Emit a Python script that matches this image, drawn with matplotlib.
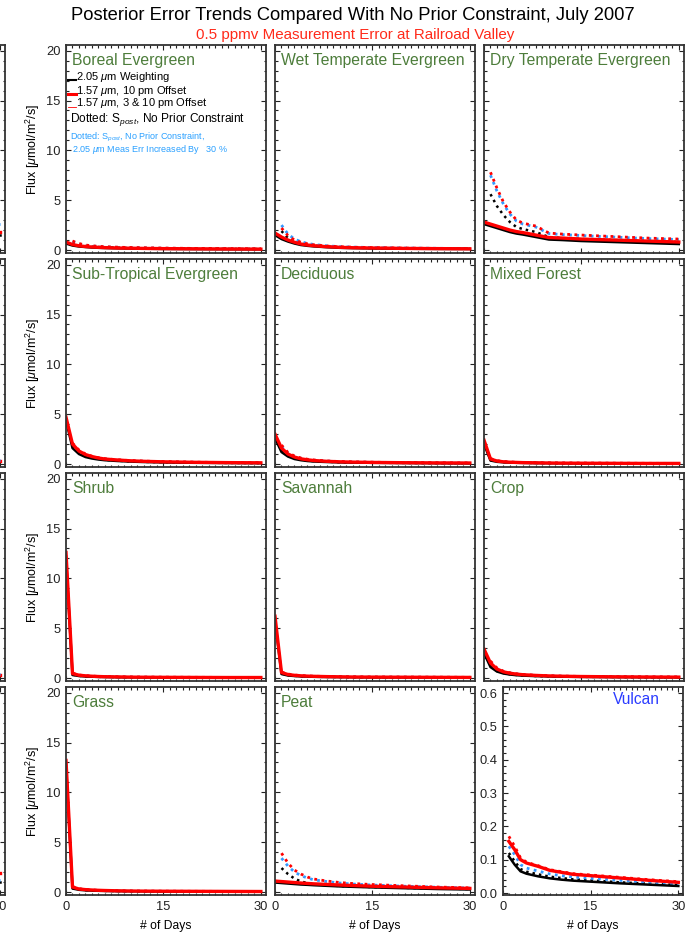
import matplotlib
matplotlib.use("Agg")
import matplotlib.pyplot as plt
from matplotlib.ticker import MultipleLocator

plt.rcParams['font.family'] = ['Liberation Sans', 'DejaVu Sans']
plt.rcParams['mathtext.fontset'] = 'custom'
plt.rcParams['mathtext.rm'] = 'Liberation Sans'
plt.rcParams['mathtext.it'] = 'Liberation Sans:italic'

# days for solid curves (start at 0) and dotted curves (start at day 1)
days_solid = [0, 1, 2, 3, 4, 5, 6, 8, 10, 12, 15, 20, 25, 30]
days_dot = [1, 2, 3, 4, 5, 6, 8, 10, 12, 15, 20, 25, 30]

# Boreal Evergreen
boreal_blk = [0.65, 0.45, 0.35, 0.3, 0.25, 0.22, 0.2, 0.17, 0.15, 0.13, 0.11, 0.09, 0.08, 0.07]
boreal_red = [0.8, 0.55, 0.42, 0.35, 0.3, 0.27, 0.24, 0.2, 0.18, 0.16, 0.14, 0.12, 0.1, 0.09]
boreal_blk_dot = [0.7, 0.5, 0.4, 0.33, 0.3, 0.27, 0.23, 0.2, 0.18, 0.16, 0.13, 0.11, 0.1]
boreal_red_dot = [0.9, 0.65, 0.5, 0.42, 0.37, 0.33, 0.28, 0.25, 0.22, 0.19, 0.16, 0.14, 0.12]
boreal_blu_dot = [0.85, 0.6, 0.47, 0.4, 0.35, 0.31, 0.27, 0.24, 0.21, 0.18, 0.15, 0.13, 0.11]

# Wet Temperate Evergreen
wet_blk = [1.5, 1.1, 0.85, 0.65, 0.5, 0.42, 0.36, 0.28, 0.22, 0.19, 0.16, 0.13, 0.11, 0.1]
wet_red = [1.7, 1.3, 1.0, 0.78, 0.6, 0.5, 0.43, 0.33, 0.27, 0.23, 0.2, 0.16, 0.14, 0.12]
wet_blk_dot = [1.9, 1.2, 0.85, 0.65, 0.52, 0.44, 0.34, 0.28, 0.24, 0.2, 0.16, 0.14, 0.12]
wet_red_dot = [2.2, 1.45, 1.0, 0.78, 0.62, 0.52, 0.4, 0.33, 0.28, 0.24, 0.19, 0.16, 0.14]
wet_blu_dot = [2.5, 1.6, 1.1, 0.83, 0.66, 0.55, 0.42, 0.34, 0.29, 0.25, 0.2, 0.17, 0.15]

# Dry Temperate Evergreen
dry_blk = [2.6, 2.4, 2.2, 2.0, 1.8, 1.65, 1.55, 1.3, 1.05, 1.0, 0.9, 0.8, 0.7, 0.6]
dry_red = [2.8, 2.6, 2.4, 2.2, 2.0, 1.85, 1.75, 1.5, 1.25, 1.2, 1.1, 1.0, 0.9, 0.8]
dry_blk_dot = [5.6, 4.4, 3.5, 2.8, 2.3, 2.1, 1.8, 1.3, 1.2, 1.1, 1.0, 0.9, 0.8]
dry_red_dot = [7.8, 6.2, 4.8, 3.8, 3.0, 2.7, 2.4, 1.7, 1.6, 1.5, 1.35, 1.2, 1.1]
dry_blu_dot = [7.5, 5.9, 4.6, 3.6, 2.9, 2.6, 2.3, 1.65, 1.55, 1.45, 1.3, 1.15, 1.05]

# Sub-Tropical Evergreen
sub_blk = [4.4, 1.6, 1.0, 0.7, 0.55, 0.45, 0.38, 0.3, 0.24, 0.2, 0.16, 0.12, 0.1, 0.08]
sub_red = [4.7, 2.0, 1.3, 0.95, 0.75, 0.6, 0.5, 0.4, 0.32, 0.27, 0.22, 0.17, 0.14, 0.12]
sub_blk_dot = [1.8, 1.1, 0.8, 0.6, 0.5, 0.42, 0.33, 0.26, 0.22, 0.18, 0.14, 0.11, 0.09]
sub_red_dot = [2.1, 1.4, 1.0, 0.78, 0.63, 0.53, 0.42, 0.34, 0.29, 0.24, 0.18, 0.15, 0.13]
sub_blu_dot = [2.0, 1.3, 0.95, 0.74, 0.6, 0.5, 0.4, 0.32, 0.27, 0.22, 0.17, 0.14, 0.12]

# Deciduous
dec_blk = [2.6, 1.2, 0.75, 0.5, 0.38, 0.3, 0.25, 0.2, 0.16, 0.14, 0.12, 0.1, 0.08, 0.07]
dec_red = [3.0, 1.6, 1.0, 0.7, 0.52, 0.42, 0.35, 0.27, 0.22, 0.19, 0.16, 0.13, 0.11, 0.1]
dec_blk_dot = [1.4, 0.85, 0.58, 0.44, 0.35, 0.29, 0.23, 0.18, 0.16, 0.13, 0.11, 0.09, 0.08]
dec_red_dot = [1.9, 1.15, 0.8, 0.6, 0.48, 0.4, 0.3, 0.25, 0.21, 0.18, 0.14, 0.12, 0.1]
dec_blu_dot = [1.8, 1.1, 0.75, 0.57, 0.45, 0.38, 0.29, 0.24, 0.2, 0.17, 0.13, 0.11, 0.1]

# Mixed Forest
mix_blk = [2.0, 0.35, 0.22, 0.17, 0.14, 0.12, 0.11, 0.09, 0.08, 0.07, 0.06, 0.05, 0.05, 0.04]
mix_red = [2.4, 0.5, 0.3, 0.22, 0.18, 0.16, 0.14, 0.12, 0.1, 0.09, 0.08, 0.07, 0.06, 0.06]
mix_blk_dot = [0.4, 0.25, 0.19, 0.16, 0.14, 0.12, 0.1, 0.09, 0.08, 0.07, 0.06, 0.05, 0.05]
mix_red_dot = [0.55, 0.33, 0.25, 0.2, 0.17, 0.15, 0.13, 0.11, 0.1, 0.09, 0.08, 0.07, 0.06]
mix_blu_dot = [0.5, 0.3, 0.23, 0.19, 0.16, 0.14, 0.12, 0.1, 0.09, 0.08, 0.07, 0.06, 0.06]

# Shrub
shrub_blk = [12.2, 0.3, 0.2, 0.15, 0.13, 0.11, 0.1, 0.08, 0.07, 0.06, 0.05, 0.05, 0.04, 0.04]
shrub_red = [12.6, 0.45, 0.28, 0.22, 0.18, 0.15, 0.13, 0.11, 0.09, 0.08, 0.07, 0.06, 0.05, 0.05]
shrub_blk_dot = [0.35, 0.22, 0.17, 0.14, 0.12, 0.11, 0.09, 0.08, 0.07, 0.06, 0.05, 0.05, 0.04]
shrub_red_dot = [0.5, 0.3, 0.23, 0.19, 0.16, 0.14, 0.12, 0.1, 0.09, 0.08, 0.07, 0.06, 0.05]
shrub_blu_dot = [0.45, 0.28, 0.21, 0.18, 0.15, 0.13, 0.11, 0.09, 0.08, 0.07, 0.06, 0.05, 0.05]

# Savannah
sav_blk = [5.8, 0.4, 0.25, 0.2, 0.16, 0.14, 0.12, 0.1, 0.09, 0.08, 0.07, 0.06, 0.05, 0.05]
sav_red = [6.2, 0.55, 0.35, 0.27, 0.22, 0.19, 0.17, 0.14, 0.12, 0.1, 0.09, 0.08, 0.07, 0.06]
sav_blk_dot = [0.45, 0.3, 0.22, 0.18, 0.15, 0.13, 0.11, 0.1, 0.09, 0.08, 0.07, 0.06, 0.05]
sav_red_dot = [0.6, 0.4, 0.3, 0.24, 0.2, 0.18, 0.15, 0.13, 0.11, 0.1, 0.09, 0.08, 0.07]
sav_blu_dot = [0.55, 0.37, 0.28, 0.22, 0.19, 0.17, 0.14, 0.12, 0.1, 0.09, 0.08, 0.07, 0.06]

# Crop
crop_blk = [2.5, 1.1, 0.65, 0.45, 0.35, 0.28, 0.24, 0.19, 0.16, 0.13, 0.11, 0.09, 0.08, 0.07]
crop_red = [2.9, 1.5, 0.9, 0.62, 0.48, 0.39, 0.33, 0.26, 0.21, 0.18, 0.15, 0.12, 0.1, 0.09]
crop_blk_dot = [1.2, 0.7, 0.5, 0.38, 0.31, 0.26, 0.2, 0.17, 0.14, 0.12, 0.1, 0.08, 0.07]
crop_red_dot = [1.7, 1.0, 0.68, 0.52, 0.42, 0.35, 0.27, 0.22, 0.19, 0.16, 0.13, 0.11, 0.1]
crop_blu_dot = [1.6, 0.95, 0.65, 0.5, 0.4, 0.33, 0.26, 0.21, 0.18, 0.15, 0.12, 0.1, 0.09]

# Grass
grass_blk = [12.8, 0.35, 0.22, 0.17, 0.14, 0.12, 0.11, 0.09, 0.08, 0.07, 0.06, 0.05, 0.05, 0.04]
grass_red = [13.2, 0.5, 0.3, 0.24, 0.2, 0.17, 0.15, 0.12, 0.1, 0.09, 0.08, 0.07, 0.06, 0.05]
grass_blk_dot = [0.4, 0.25, 0.18, 0.15, 0.13, 0.11, 0.09, 0.08, 0.07, 0.06, 0.05, 0.05, 0.04]
grass_red_dot = [0.55, 0.33, 0.25, 0.2, 0.17, 0.15, 0.12, 0.1, 0.09, 0.08, 0.07, 0.06, 0.05]
grass_blu_dot = [0.5, 0.3, 0.23, 0.19, 0.16, 0.14, 0.11, 0.09, 0.08, 0.07, 0.06, 0.05, 0.05]

# Peat
peat_blk = [0.95, 0.9, 0.85, 0.8, 0.75, 0.72, 0.68, 0.62, 0.56, 0.52, 0.46, 0.38, 0.3, 0.25]
peat_red = [1.1, 1.05, 1.0, 0.95, 0.9, 0.86, 0.82, 0.76, 0.7, 0.65, 0.58, 0.5, 0.42, 0.36]
peat_blk_dot = [2.4, 1.8, 1.35, 1.05, 0.9, 0.8, 0.68, 0.6, 0.55, 0.5, 0.42, 0.35, 0.3]
peat_red_dot = [3.9, 2.9, 2.2, 1.8, 1.5, 1.3, 1.1, 0.95, 0.85, 0.75, 0.62, 0.5, 0.42]
peat_blu_dot = [3.4, 2.6, 2.0, 1.65, 1.4, 1.22, 1.05, 0.9, 0.8, 0.7, 0.58, 0.48, 0.4]

# Vulcan (all curves start at day 1)
vul_blk = [0.11, 0.085, 0.065, 0.058, 0.054, 0.05, 0.044, 0.04, 0.037, 0.034, 0.029, 0.025, 0.021]
vul_red = [0.155, 0.13, 0.1, 0.09, 0.085, 0.08, 0.068, 0.062, 0.056, 0.052, 0.045, 0.038, 0.032]
vul_blk_dot = [0.12, 0.095, 0.072, 0.064, 0.06, 0.056, 0.049, 0.045, 0.041, 0.038, 0.032, 0.028, 0.024]
vul_red_dot = [0.17, 0.14, 0.105, 0.093, 0.087, 0.082, 0.07, 0.064, 0.058, 0.054, 0.047, 0.04, 0.034]
vul_blu_dot = [0.14, 0.115, 0.085, 0.075, 0.07, 0.066, 0.057, 0.052, 0.048, 0.044, 0.038, 0.032, 0.027]

# cut-off column at the left edge: only the last days are visible
edge_days = [28, 30]
edge_blk = [[1.5, 1.5], [0.3, 0.3], [0.3, 0.3], [1.0, 1.0]]
edge_red = [[1.8, 1.8], [0.35, 0.35], [0.35, 0.35], [1.9, 1.9]]
edge_blu = [[2.6, 2.6], [0.4, 0.4], [0.4, 0.4], [1.2, 1.2]]

names = ['Boreal Evergreen', 'Wet Temperate Evergreen', 'Dry Temperate Evergreen',
         'Sub-Tropical Evergreen', 'Deciduous', 'Mixed Forest',
         'Shrub', 'Savannah', 'Crop',
         'Grass', 'Peat', 'Vulcan']
series = [
    (boreal_blk, boreal_red, boreal_blk_dot, boreal_red_dot, boreal_blu_dot),
    (wet_blk, wet_red, wet_blk_dot, wet_red_dot, wet_blu_dot),
    (dry_blk, dry_red, dry_blk_dot, dry_red_dot, dry_blu_dot),
    (sub_blk, sub_red, sub_blk_dot, sub_red_dot, sub_blu_dot),
    (dec_blk, dec_red, dec_blk_dot, dec_red_dot, dec_blu_dot),
    (mix_blk, mix_red, mix_blk_dot, mix_red_dot, mix_blu_dot),
    (shrub_blk, shrub_red, shrub_blk_dot, shrub_red_dot, shrub_blu_dot),
    (sav_blk, sav_red, sav_blk_dot, sav_red_dot, sav_blu_dot),
    (crop_blk, crop_red, crop_blk_dot, crop_red_dot, crop_blu_dot),
    (grass_blk, grass_red, grass_blk_dot, grass_red_dot, grass_blu_dot),
    (peat_blk, peat_red, peat_blk_dot, peat_red_dot, peat_blu_dot),
    (vul_blk, vul_red, vul_blk_dot, vul_red_dot, vul_blu_dot),
]

W, H = 685, 939
GREEN = '#4d7d3b'
DOT = (0, (1, 1.6))

fig = plt.figure(figsize=(W / 100, H / 100), dpi=100)

col_left = [-195, 66, 275, 484]
row_top = [45, 259, 473, 687]
pw, ph = 200, 208


def make_axes(x, y, w, h):
    return fig.add_axes([x / W, 1 - (y + h) / H, w / W, h / H])


def style(ax, vulcan=False):
    ax.set_xlim(0, 30.8)
    if vulcan:
        ax.set_ylim(-0.006, 0.618)
        ax.yaxis.set_major_locator(MultipleLocator(0.1))
        ax.yaxis.set_minor_locator(MultipleLocator(0.02))
    else:
        ax.set_ylim(-0.3, 20.57)
        ax.yaxis.set_major_locator(MultipleLocator(5))
        ax.yaxis.set_minor_locator(MultipleLocator(1))
    ax.xaxis.set_major_locator(MultipleLocator(15))
    ax.xaxis.set_minor_locator(MultipleLocator(1))
    ax.tick_params(which='both', direction='in', top=True, right=True,
                   width=0.8, labelsize=9.3, colors='#222222')
    ax.tick_params(which='major', length=3.8, pad=4)
    ax.tick_params(which='minor', length=1.8)
    for s in ax.spines.values():
        s.set_linewidth(1.3)
        s.set_color('#333333')


# partially visible column on the far left
for r in range(4):
    ax = make_axes(col_left[0], row_top[r], pw, ph)
    style(ax)
    ax.plot(edge_days, edge_blk[r], color='black', lw=1.8)
    ax.plot(edge_days, edge_red[r], color='red', lw=2.4)
    ax.plot(edge_days, edge_blu[r], color='#3399ff', lw=2.0, ls=DOT)
    ax.tick_params(labelleft=False, labelbottom=(r == 3))

for i, name in enumerate(names):
    r, c = divmod(i, 3)
    vulcan = name == 'Vulcan'
    if vulcan:
        ax = make_axes(503, row_top[r], 180, ph)
    else:
        ax = make_axes(col_left[c + 1], row_top[r], pw, ph)
    style(ax, vulcan)
    blk, red, blk_dot, red_dot, blu_dot = series[i]
    xs = days_dot if vulcan else days_solid
    ax.plot(days_dot, blk_dot, color='black', lw=1.8, ls=DOT)
    ax.plot(days_dot, blu_dot, color='#3399ff', lw=2.0, ls=DOT)
    ax.plot(days_dot, red_dot, color='red', lw=2.0, ls=DOT)
    ax.plot(xs, blk, color='black', lw=1.8)
    ax.plot(xs, red, color='red', lw=2.4)
    ax.tick_params(labelleft=(c == 0 or vulcan), labelbottom=(r == 3))
    if c == 0:
        ax.set_ylabel(r'Flux [$\mu$mol/m$^2$/s]', fontsize=9, labelpad=3)
    if r == 3:
        ax.set_xlabel('# of Days', fontsize=8.7, labelpad=5)
    if vulcan:
        ax.text(0.74, 0.94, name, transform=ax.transAxes, color='#2b3cff',
                fontsize=11.2, ha='center', va='center')
    else:
        ax.text(0.03, 0.925, name, transform=ax.transAxes, color=GREEN,
                fontsize=11.3, ha='left', va='center')

    if i == 0:
        # legend block drawn inside the first panel
        def ay(py):
            return (row_top[0] + ph - py) / ph
        ax.plot([0.012, 0.05], [ay(80), ay(80)], color='black', lw=1.5,
                transform=ax.transAxes, clip_on=False)
        ax.plot([0.008, 0.05], [ay(93.5), ay(93.5)], color='red', lw=2.2,
                transform=ax.transAxes, clip_on=False)
        ax.plot([0.008, 0.05], [ay(106.5), ay(106.5)], color='red', lw=0.6,
                transform=ax.transAxes, clip_on=False)
        ax.text(0.052, ay(77.5), r'2.05 $\mu$m Weighting', transform=ax.transAxes,
                fontsize=8.0, va='center', ha='left')
        ax.text(0.052, ay(90.5), r'1.57 $\mu$m, 10 pm Offset', transform=ax.transAxes,
                fontsize=8.0, va='center', ha='left')
        ax.text(0.052, ay(103.5), r'1.57 $\mu$m, 3 & 10 pm Offset', transform=ax.transAxes,
                fontsize=8.0, va='center', ha='left')
        ax.text(0.02, ay(120), r'Dotted: S$_{post}$, No Prior Constraint',
                transform=ax.transAxes, fontsize=8.6, va='center', ha='left')
        ax.text(0.02, ay(137), r'Dotted: S$_{post}$, No Prior Constraint,',
                transform=ax.transAxes, fontsize=6.5, va='center', ha='left',
                color='#2aa0ff')
        ax.text(0.03, ay(149), r'2.05 $\mu$m Meas Err Increased By   30 %',
                transform=ax.transAxes, fontsize=6.5, va='center', ha='left',
                color='#2aa0ff')

fig.text(353 / W, 1 - 15 / H,
         'Posterior Error Trends Compared With No Prior Constraint, July 2007',
         ha='center', va='center', fontsize=13.2)
fig.text(355 / W, 1 - 35 / H, '0.5 ppmv Measurement Error at Railroad Valley',
         ha='center', va='center', fontsize=10.9, color='#ff2a1a')

fig.savefig('out.png', dpi=100)
